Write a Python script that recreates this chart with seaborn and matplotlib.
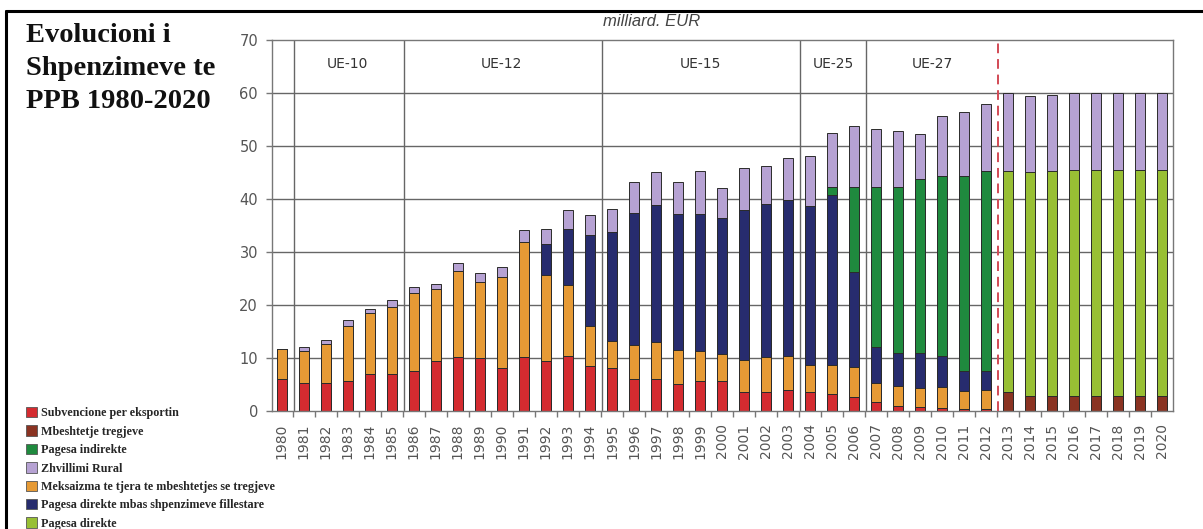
import numpy as np
import pandas as pd
import matplotlib
matplotlib.use("Agg")
import matplotlib.pyplot as plt
from matplotlib.patches import Patch
from matplotlib.lines import Line2D
from matplotlib.font_manager import FontProperties
import seaborn as sns

# data (billion EUR), segment values per year
years = [str(y) for y in range(1980, 2021)]

subvencione = [6.0, 5.35, 5.35, 5.7, 7.0, 7.0, 7.6, 9.5, 10.1, 9.95,
               8.05, 10.1, 9.5, 10.4, 8.5, 8.05, 6.0, 6.0, 5.1, 5.7,
               5.7, 3.6, 3.6, 4.0, 3.6, 3.3, 2.7, 1.75, 1.0, 0.8,
               0.6, 0.45, 0.3, 0, 0, 0, 0, 0, 0, 0, 0]
mbeshtetje = [0] * 33 + [3.65, 2.9, 2.9, 2.9, 2.9, 2.9, 2.9, 2.9]
meksaizma = [5.7, 6.05, 7.25, 10.4, 11.45, 12.7, 14.6, 13.5, 16.4, 14.45,
             17.2, 21.7, 16.1, 13.3, 7.55, 5.25, 6.5, 7.0, 6.4, 5.6,
             5.1, 6.0, 6.5, 6.3, 5.1, 5.4, 5.55, 3.6, 3.8, 3.6,
             4.0, 3.35, 3.7, 0, 0, 0, 0, 0, 0, 0, 0]
pagesa_mbas = [0] * 12 + [5.9, 10.7, 17.15, 20.45, 24.9, 25.8, 25.65, 25.85,
                          25.7, 28.25, 28.9, 29.6, 29.9, 32.0, 18.05, 6.65,
                          6.1, 6.5, 5.8, 3.75, 3.55] + [0] * 8
pagesa_indirekte = [0] * 25 + [1.55, 16.0, 30.25, 31.3, 32.9, 34.0, 36.85, 37.65] + [0] * 8
pagesa_direkte = [0] * 33 + [41.55, 42.1, 42.3, 42.5, 42.6, 42.6, 42.6, 42.6]
zhvillimi = [0, 0.75, 0.8, 1.0, 0.75, 1.3, 1.2, 1.0, 1.4, 1.7,
             1.85, 2.3, 2.9, 3.6, 3.7, 4.45, 5.9, 6.2, 6.15, 8.15,
             5.6, 8.05, 7.2, 7.9, 9.6, 10.25, 11.4, 11.05, 10.7, 8.5,
             11.2, 12.1, 12.8, 14.8, 14.5, 14.4, 14.6, 14.5, 14.5, 14.5, 14.5]

periods = ["UE-10", "UE-12", "UE-15", "UE-25", "UE-27"]

# stacking order, bottom to top
stack = [
    ("Subvencione per eksportin", subvencione, "#d42b30"),
    ("Mbeshtetje tregjeve", mbeshtetje, "#8a3322"),
    ("Meksaizma te tjera te mbeshtetjes se tregjeve", meksaizma, "#e69a35"),
    ("Pagesa direkte mbas shpenzimeve fillestare", pagesa_mbas, "#272c6e"),
    ("Pagesa indirekte", pagesa_indirekte, "#1f8a3e"),
    ("Pagesa direkte", pagesa_direkte, "#98bf34"),
    ("Zhvillimi Rural", zhvillimi, "#b6a2d3"),
]
df = pd.DataFrame({name: vals for name, vals, _ in stack}, index=years)
cum = df.cumsum(axis=1)

sns.set_style("white")
plt.rcParams["font.family"] = ["DejaVu Sans"]

fig = plt.figure(figsize=(12.03, 5.29), dpi=100)
ax = fig.add_axes([272 / 1203, 1 - 411 / 529, 901 / 1203, 371 / 529])

# overlay cumulative totals, tallest first
for name, _, color in reversed(stack):
    sns.barplot(x=years, y=cum[name].values, color=color, saturation=1,
                width=0.43, edgecolor="#2b2b2b", linewidth=0.7,
                errorbar=None, ax=ax, zorder=2)

ax.set_xlim(-0.45, 40.5)
ax.set_ylim(0, 70)
ax.set_xlabel("")
ax.set_ylabel("")

for yv in range(10, 70, 10):
    ax.axhline(yv, color="#666666", lw=1, zorder=0.5)
for xv in [0.55, 5.55, 14.55, 23.55, 26.55]:
    ax.axvline(xv, color="#666666", lw=1, zorder=0.5)
ax.axvline(32.55, color="#d24a55", lw=1.4, ls=(0, (5, 3)), zorder=3)

# period labels in the top band
for label, xc in zip(periods, [3.0, 10.0, 19.0, 25.05, 29.55]):
    ax.text(xc, 65.5, label, ha="center", va="center", fontsize=10, color="#333333")

for sp in ax.spines.values():
    sp.set_color("#777777")
    sp.set_linewidth(1)

ax.set_yticks(range(0, 71, 10))
ax.set_xticks(range(len(years)))
ax.set_xticklabels(years, rotation=90)
ax.set_xticks(np.arange(0.5, 40, 1), minor=True)
ax.tick_params(axis="x", which="major", length=0, pad=9, labelsize=10, labelcolor="#555555")
ax.tick_params(axis="x", which="minor", length=4, width=1, color="#777777", direction="out", bottom=True)
ax.tick_params(axis="y", length=4, width=1, color="#777777", direction="out", left=True,
               pad=6, labelsize=10.5, labelcolor="#555555")

fig.text(603 / 1203, 1 - 21 / 529, "milliard. EUR", ha="left", va="center",
         fontsize=12, style="italic", color="#444444", family="Liberation Sans")

fig.text(26 / 1203, 1 - 23 / 529, "Evolucioni i\nShpenzimeve te\nPPB 1980-2020",
         ha="left", va="top", fontsize=20.5, fontweight="bold",
         family="Liberation Serif", linespacing=1.42, color="#111111")

legend_order = ["Subvencione per eksportin", "Mbeshtetje tregjeve", "Pagesa indirekte",
                "Zhvillimi Rural", "Meksaizma te tjera te mbeshtetjes se tregjeve",
                "Pagesa direkte mbas shpenzimeve fillestare", "Pagesa direkte"]
colors = {name: c for name, _, c in stack}
handles = [Patch(facecolor=colors[n], edgecolor="#555555", linewidth=0.6) for n in legend_order]
fig.legend(handles, legend_order, loc="upper left", bbox_to_anchor=(26 / 1203, 1 - 407 / 529),
           frameon=False, prop=FontProperties(family="Liberation Serif", weight="bold", size=8.7),
           handlelength=0.95, handleheight=0.95, handletextpad=0.3, labelspacing=0.5,
           borderpad=0, borderaxespad=0)

# outer black frame (top and left)
fig.add_artist(Line2D([6 / 1203, 1], [1 - 11 / 529] * 2, transform=fig.transFigure, color="black", lw=2.2))
fig.add_artist(Line2D([6 / 1203] * 2, [0, 1 - 11 / 529], transform=fig.transFigure, color="black", lw=2.2))

fig.savefig("out.png", dpi=100)
